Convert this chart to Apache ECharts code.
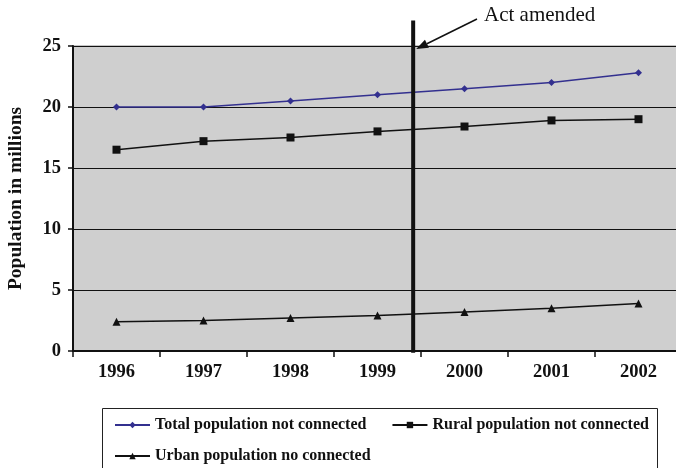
<!DOCTYPE html>
<html>
<head>
<meta charset="utf-8">
<script src="https://cdn.jsdelivr.net/npm/echarts@6/dist/echarts.min.js"></script>
<style>
  html, body { margin: 0; padding: 0; background: #fff; }
  #chart { width: 676px; height: 468px; }
</style>
</head>
<body>
<div id="chart"></div>
<script>
// Population without connection, in millions, by year
const years = ['1996', '1997', '1998', '1999', '2000', '2001', '2002'];
const totalNotConnected = [20.0, 20.0, 20.5, 21.0, 21.5, 22.0, 22.8];
const ruralNotConnected = [16.5, 17.2, 17.5, 18.0, 18.4, 18.9, 19.0];
const urbanNotConnected = [2.4, 2.5, 2.7, 2.9, 3.2, 3.5, 3.9];
const yTicks = [0, 5, 10, 15, 20, 25];

// Position of the amendment marker (fraction of the way from 1999 to 2000)
const amendmentYear = 1999.41;
const annotationText = 'Act amended';

const serif = '"Liberation Serif", "Times New Roman", serif';
const names = ['Total population not connected', 'Rural population not connected', 'Urban population no connected'];

const chart = echarts.init(document.getElementById('chart'), null, { renderer: 'canvas' });

const legendText = { fontFamily: serif, fontWeight: 'bold', fontSize: 16, color: '#111' };

const option = {
  animation: false,
  backgroundColor: '#ffffff',
  grid: {
    left: 73, top: 46, width: 609, height: 305,
    containLabel: false, outerBoundsMode: 'none',
    show: true, backgroundColor: '#cfcfcf', borderColor: '#8a8a8a', borderWidth: 1
  },
  legend: [
    {
      data: [names[0], names[1]],
      left: 114, top: 417, padding: 0, itemWidth: 35, itemHeight: 8, itemGap: 25,
      textStyle: legendText
    },
    {
      data: [names[2]],
      left: 114, top: 448, padding: 0, itemWidth: 35, itemHeight: 8,
      textStyle: legendText
    }
  ],
  xAxis: [
    {
      type: 'category',
      data: years,
      boundaryGap: true,
      axisLine: { lineStyle: { color: '#111', width: 2 } },
      axisTick: { show: true, length: 6, lineStyle: { color: '#111', width: 1.5 } },
      axisLabel: { fontFamily: serif, fontWeight: 'bold', fontSize: 18.5, color: '#111', margin: 12 },
      splitLine: { show: false }
    },
    {
      type: 'value', show: false, min: 1995.5, max: 2002.5
    }
  ],
  yAxis: {
    type: 'value',
    min: yTicks[0], max: yTicks[yTicks.length - 1], interval: 5,
    name: 'Population in millions',
    nameLocation: 'middle', nameRotate: 90, nameGap: 47,
    nameTextStyle: { fontFamily: serif, fontWeight: 'bold', fontSize: 19.5, color: '#111' },
    axisLine: { show: true, lineStyle: { color: '#111', width: 2 } },
    axisTick: { show: true, length: 5, lineStyle: { color: '#111', width: 1.5 } },
    axisLabel: { fontFamily: serif, fontWeight: 'bold', fontSize: 18.5, color: '#111', margin: 12 },
    splitLine: { show: true, lineStyle: { color: '#111', width: 1 } }
  },
  series: [
    {
      name: names[0], type: 'line', data: totalNotConnected,
      symbol: 'diamond', symbolSize: 7,
      itemStyle: { color: '#33308f' }, lineStyle: { color: '#33308f', width: 1.5 }
    },
    {
      name: names[1], type: 'line', data: ruralNotConnected,
      symbol: 'rect', symbolSize: 8,
      itemStyle: { color: '#111' }, lineStyle: { color: '#111', width: 1.5 }
    },
    {
      name: names[2], type: 'line', data: urbanNotConnected,
      symbol: 'triangle', symbolSize: 8,
      itemStyle: { color: '#111' }, lineStyle: { color: '#111', width: 1.5 }
    },
    {
      // amendment marker: thick vertical rule reaching above the plot
      name: 'amendment', type: 'line', xAxisIndex: 1, yAxisIndex: 0,
      data: [[amendmentYear, -0.15], [amendmentYear, 27.1]],
      symbol: 'none', clip: false, silent: true, z: 5,
      lineStyle: { color: '#111', width: 4 }
    }
  ]
};

chart.setOption(option);

// Callout arrow and label pointing at the amendment rule
const tip = chart.convertToPixel({ xAxisIndex: 1, yAxisIndex: 0 }, [amendmentYear, 24.75]);
tip[0] += 3;
const tail = [477, 19];
const dx = tip[0] - tail[0], dy = tip[1] - tail[1];
const len = Math.sqrt(dx * dx + dy * dy);
const ux = dx / len, uy = dy / len;
const headLen = 12, headHalf = 4.5;
const base = [tip[0] - ux * headLen, tip[1] - uy * headLen];
chart.setOption({
  graphic: [
    {
      type: 'line', z: 10,
      shape: { x1: tail[0], y1: tail[1], x2: base[0], y2: base[1] },
      style: { stroke: '#111', lineWidth: 1.5 }
    },
    {
      type: 'polygon', z: 10,
      shape: { points: [
        tip,
        [base[0] - uy * headHalf, base[1] + ux * headHalf],
        [base[0] + uy * headHalf, base[1] - ux * headHalf]
      ] },
      style: { fill: '#111' }
    },
    {
      type: 'text', z: 10, left: 484, top: 5,
      style: { text: annotationText, font: '21px ' + serif, fill: '#111' }
    },
    {
      // legend frame
      type: 'rect', z: 0,
      shape: { x: 102.5, y: 408.5, width: 555, height: 70 },
      style: { fill: 'none', stroke: '#222', lineWidth: 1 }
    }
  ]
});
</script>
</body>
</html>
